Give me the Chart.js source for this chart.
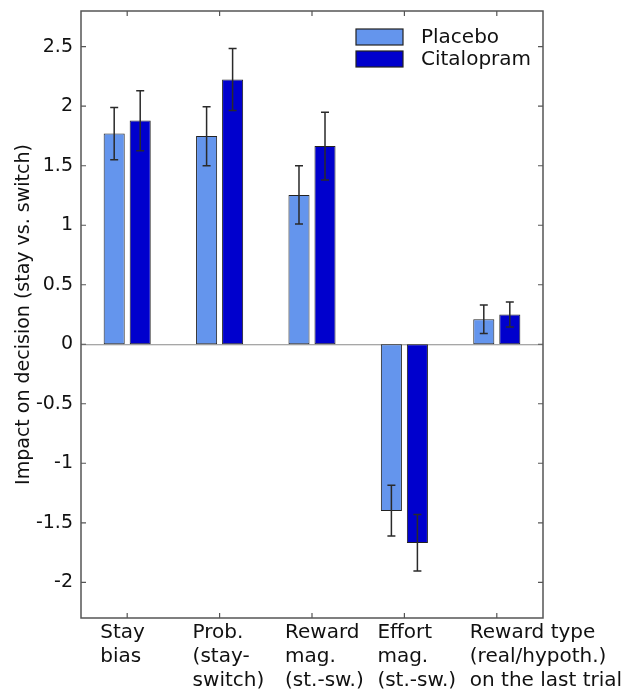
<!DOCTYPE html>
<html>
<head>
<meta charset="utf-8">
<script src="https://cdn.jsdelivr.net/npm/chart.js@4/dist/chart.umd.min.js"></script>
<style>
  html, body { margin: 0; padding: 0; background: #fff; }
  #wrap { width: 640px; height: 692px; }
</style>
</head>
<body>
<div id="wrap"><canvas id="c" width="640" height="692"></canvas></div>
<script>
// ---- data ----
const categories = [
  ["Stay", "bias"],
  ["Prob.", "(stay-", "switch)"],
  ["Reward", "mag.", "(st.-sw.)"],
  ["Effort", "mag.", "(st.-sw.)"],
  ["Reward type", "(real/hypoth.)", "on the last trial"]
];
const seriesNames = ["Placebo", "Citalopram"];
const placebo      = [1.77, 1.75, 1.255, -1.40, 0.21];
const placeboLow   = [1.55, 1.50, 1.01, -1.61, 0.09];
const placeboHigh  = [1.99, 1.995, 1.50, -1.185, 0.33];
const citalopram     = [1.88, 2.225, 1.665, -1.67, 0.25];
const citalopramLow  = [1.625, 1.965, 1.38, -1.905, 0.145];
const citalopramHigh = [2.13, 2.485, 1.95, -1.43, 0.355];
const yTicks = [-2, -1.5, -1, -0.5, 0, 0.5, 1, 1.5, 2, 2.5];
const yMin = -2.3, yMax = 2.8;
const yTitle = "Impact on decision (stay vs. switch)";

// ---- styles ----
const FONT = "'DejaVu Sans', sans-serif";
const colors = ["#6495ED", "#0000CD"];
const errLow = [placeboLow, citalopramLow];
const errHigh = [placeboHigh, citalopramHigh];

function noScalePadding(s) {
  s.paddingTop = 0; s.paddingBottom = 0; s.paddingLeft = 0; s.paddingRight = 0;
}

const framePlugin = {
  id: 'frame',
  beforeDatasetsDraw(chart) {
    const {ctx, chartArea: a, scales: {y}} = chart;
    const y0 = y.getPixelForValue(0);
    ctx.save();
    ctx.strokeStyle = '#8a8a8a';
    ctx.lineWidth = 1;
    ctx.beginPath();
    ctx.moveTo(a.left, y0 + 0.5);
    ctx.lineTo(a.right, y0 + 0.5);
    ctx.stroke();
    ctx.restore();
  },
  afterDatasetsDraw(chart) {
    const {ctx, chartArea: a, scales: {x, y}} = chart;
    ctx.save();
    // error bars
    ctx.strokeStyle = '#2a2a2a';
    ctx.lineWidth = 1.5;
    chart.data.datasets.forEach((ds, di) => {
      const meta = chart.getDatasetMeta(di);
      meta.data.forEach((bar, i) => {
        const cx = bar.x;
        const yl = y.getPixelForValue(errLow[di][i]);
        const yh = y.getPixelForValue(errHigh[di][i]);
        ctx.beginPath();
        ctx.moveTo(cx, yl); ctx.lineTo(cx, yh);
        ctx.moveTo(cx - 4, yl); ctx.lineTo(cx + 4, yl);
        ctx.moveTo(cx - 4, yh); ctx.lineTo(cx + 4, yh);
        ctx.stroke();
      });
    });
    // frame
    ctx.strokeStyle = '#555';
    ctx.lineWidth = 1.5;
    ctx.strokeRect(a.left, a.top, a.right - a.left, a.bottom - a.top);
    // inward ticks
    ctx.lineWidth = 1.2;
    ctx.beginPath();
    x.ticks.forEach((t, i) => {
      const px = x.getPixelForTick(i);
      ctx.moveTo(px, a.bottom); ctx.lineTo(px, a.bottom - 5);
      ctx.moveTo(px, a.top); ctx.lineTo(px, a.top + 5);
    });
    y.ticks.forEach(t => {
      const py = y.getPixelForValue(t.value);
      ctx.moveTo(a.left, py); ctx.lineTo(a.left + 5, py);
      ctx.moveTo(a.right, py); ctx.lineTo(a.right - 5, py);
    });
    ctx.stroke();
    // legend
    const sw = 47, sh = 16;
    const lx = a.right - 187;
    chart.data.datasets.forEach((ds, di) => {
      const cy = a.top + 26 + di * 22;
      ctx.fillStyle = ds.backgroundColor;
      ctx.fillRect(lx, cy - sh / 2, sw, sh);
      ctx.strokeStyle = '#222';
      ctx.lineWidth = 1.2;
      ctx.strokeRect(lx, cy - sh / 2, sw, sh);
      ctx.fillStyle = '#111';
      ctx.font = "20px " + FONT;
      ctx.textAlign = 'left';
      ctx.textBaseline = 'middle';
      ctx.fillText(ds.label, lx + 65, cy + 1);
    });
    ctx.restore();
  }
};

new Chart(document.getElementById('c'), {
  type: 'bar',
  data: {
    labels: categories,
    datasets: [
      { label: seriesNames[0], data: placebo, backgroundColor: colors[0] },
      { label: seriesNames[1], data: citalopram, backgroundColor: colors[1] }
    ]
  },
  options: {
    responsive: false,
    animation: false,
    devicePixelRatio: 1,
    layout: { padding: { left: 0, top: 11, right: 97, bottom: 0 } },
    datasets: {
      bar: {
        borderColor: '#222',
        borderWidth: 1,
        borderSkipped: false,
        categoryPercentage: 0.563,
        barPercentage: 0.81
      }
    },
    plugins: { legend: { display: false }, tooltip: { enabled: false } },
    scales: {
      x: {
        offset: true,
        grid: { display: false, drawTicks: false },
        border: { display: false },
        ticks: {
          autoSkip: false, maxRotation: 0, minRotation: 0,
          align: 'start',
          labelOffset: -27,
          padding: 3,
          color: '#111',
          font: { family: FONT, size: 20, lineHeight: 1.2 }
        },
        afterFit(s) { s.height = 74; noScalePadding(s); }
      },
      y: {
        min: yMin, max: yMax,
        grid: { display: false, drawTicks: false },
        border: { display: false },
        afterBuildTicks(s) { s.ticks = yTicks.map(v => ({ value: v })); },
        ticks: {
          padding: 8,
          color: '#111',
          font: { family: FONT, size: 19 },
          callback: (v) => String(v)
        },
        title: {
          display: true,
          text: yTitle,
          color: '#111',
          font: { family: FONT, size: 19, lineHeight: 1.2 },
          padding: { top: 13, bottom: 0 }
        },
        afterFit(s) { s.width = 81; noScalePadding(s); }
      }
    }
  },
  plugins: [framePlugin]
});
</script>
</body>
</html>
